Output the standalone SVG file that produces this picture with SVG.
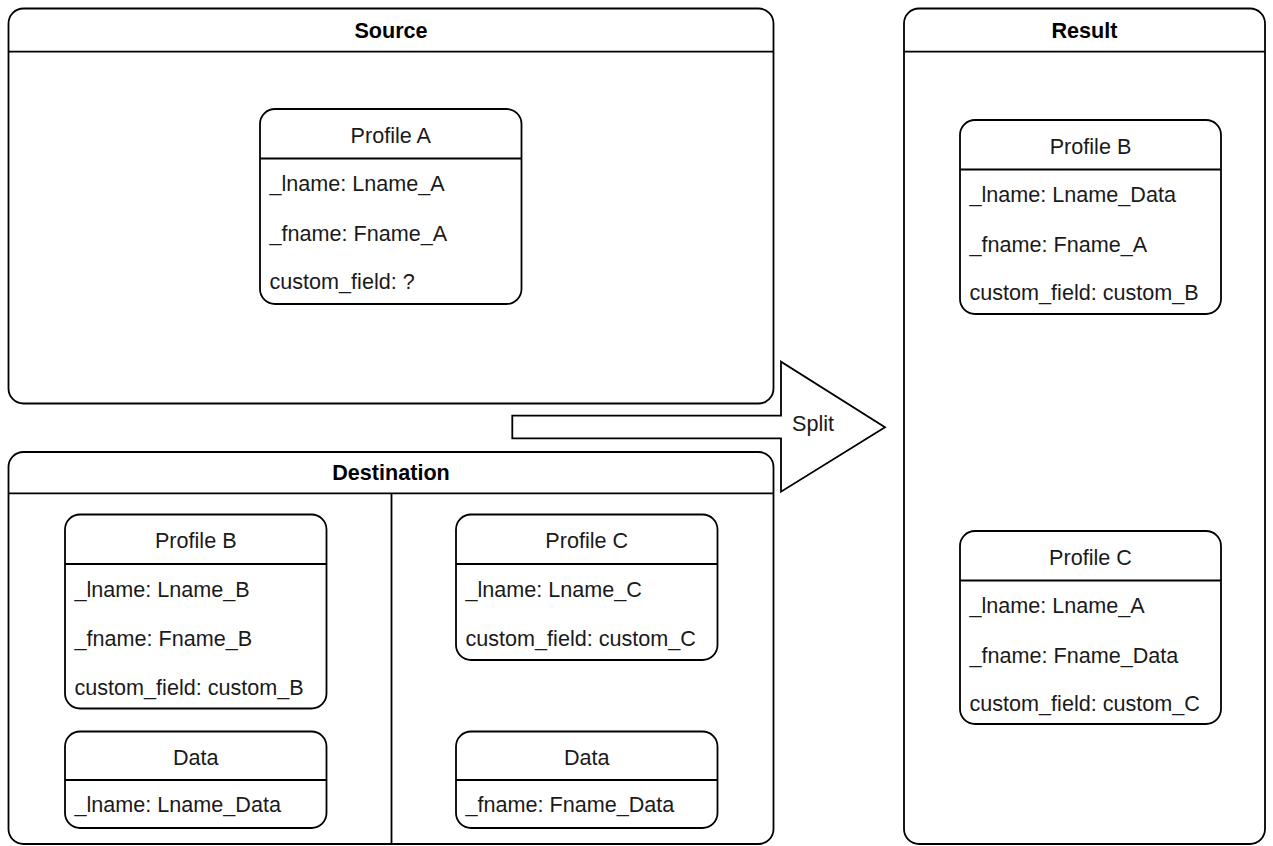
<svg xmlns="http://www.w3.org/2000/svg" width="1273" height="846" viewBox="0 0 1273 846">
<style>
.box{fill:#fff;stroke:#000;stroke-width:1.8}
.ln{fill:none;stroke:#000;stroke-width:1.8}
text{font-family:"Liberation Sans",Arial,sans-serif;font-size:21.6px;fill:#1a1a1a}
.t{font-weight:bold;text-anchor:middle;fill:#000}
.h{text-anchor:middle}
</style>
<rect width="1273" height="846" fill="#fff"/>
<g id="source">
<rect class="box" x="8.5" y="8.5" width="765" height="395" rx="15"/>
<line class="ln" x1="8.5" y1="51.7" x2="773.5" y2="51.7"/>
<text class="t" x="391" y="37.8">Source</text>
</g>
<g id="destination">
<rect class="box" x="8.5" y="452" width="765" height="392" rx="15"/>
<line class="ln" x1="8.5" y1="493.3" x2="773.5" y2="493.3"/>
<line class="ln" x1="391.5" y1="493.3" x2="391.5" y2="844"/>
<text class="t" x="391" y="480.3">Destination</text>
</g>
<g id="result">
<rect class="box" x="904" y="8.5" width="361" height="835.5" rx="15"/>
<line class="ln" x1="904" y1="51.7" x2="1265" y2="51.7"/>
<text class="t" x="1084.5" y="37.8">Result</text>
</g>
<g id="connectors">
<polygon class="box" points="512.3,415.7 781,415.7 781,361.7 885,427.3 781,491.7 781,438.3 512.3,438.3"/>
<text class="h" x="813" y="431">Split</text>
</g>
<g id="profileA">
<rect class="box" x="260" y="109" width="261.5" height="195" rx="15"/>
<line class="ln" x1="260" y1="158.5" x2="521.5" y2="158.5"/>
<text class="h" x="390.75" y="142.5">Profile A</text>
<text x="269.5" y="191">_lname: Lname_A</text>
<text x="269.5" y="240.5">_fname: Fname_A</text>
<text x="269.5" y="289">custom_field: ?</text>
</g>
<g id="dest-profileB">
<rect class="box" x="65" y="514.5" width="261.5" height="194" rx="15"/>
<line class="ln" x1="65" y1="564" x2="326.5" y2="564"/>
<text class="h" x="195.75" y="548">Profile B</text>
<text x="74.5" y="596.5">_lname: Lname_B</text>
<text x="74.5" y="646">_fname: Fname_B</text>
<text x="74.5" y="694.5">custom_field: custom_B</text>
</g>
<g id="dest-dataL">
<rect class="box" x="65" y="731.5" width="261.5" height="96.5" rx="15"/>
<line class="ln" x1="65" y1="780" x2="326.5" y2="780"/>
<text class="h" x="195.75" y="764.5">Data</text>
<text x="74.5" y="812">_lname: Lname_Data</text>
</g>
<g id="dest-profileC">
<rect class="box" x="456" y="514.5" width="261.5" height="145.5" rx="15"/>
<line class="ln" x1="456" y1="564" x2="717.5" y2="564"/>
<text class="h" x="586.75" y="548">Profile C</text>
<text x="465.5" y="596.5">_lname: Lname_C</text>
<text x="465.5" y="646">custom_field: custom_C</text>
</g>
<g id="dest-dataR">
<rect class="box" x="456" y="731.5" width="261.5" height="96.5" rx="15"/>
<line class="ln" x1="456" y1="780" x2="717.5" y2="780"/>
<text class="h" x="586.75" y="764.5">Data</text>
<text x="465.5" y="812">_fname: Fname_Data</text>
</g>
<g id="result-profileB">
<rect class="box" x="960" y="120" width="261" height="194" rx="15"/>
<line class="ln" x1="960" y1="169.5" x2="1221" y2="169.5"/>
<text class="h" x="1090.5" y="153.5">Profile B</text>
<text x="969.5" y="202">_lname: Lname_Data</text>
<text x="969.5" y="251.5">_fname: Fname_A</text>
<text x="969.5" y="300">custom_field: custom_B</text>
</g>
<g id="result-profileC">
<rect class="box" x="960" y="531" width="261" height="193" rx="15"/>
<line class="ln" x1="960" y1="580.5" x2="1221" y2="580.5"/>
<text class="h" x="1090.5" y="564.5">Profile C</text>
<text x="969.5" y="613">_lname: Lname_A</text>
<text x="969.5" y="662.5">_fname: Fname_Data</text>
<text x="969.5" y="711">custom_field: custom_C</text>
</g>
</svg>
